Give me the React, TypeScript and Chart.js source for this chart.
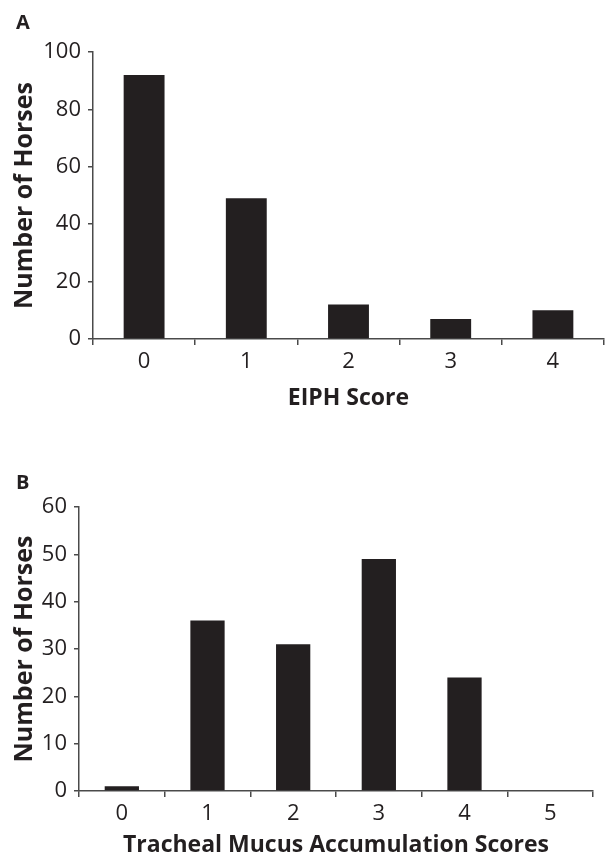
import React, { useEffect, useRef } from 'react';
import { Chart, registerables } from 'chart.js';

Chart.register(...registerables);

// ---- data ----
const eiphScores = ['0', '1', '2', '3', '4'];
const eiphHorses = [92, 49, 12, 7, 10];
const eiphMax = 100;
const eiphLabelStep = 20;

const mucusScores = ['0', '1', '2', '3', '4', '5'];
const mucusHorses = [1, 36, 31, 49, 24, 0];
const mucusMax = 60;
const mucusLabelStep = 10;

const yTitle = 'Number of Horses';
const eiphTitle = 'EIPH Score';
const mucusTitle = 'Tracheal Mucus Accumulation Scores';

const INK = '#231f20';
const AXIS = '#4a4a4a';
const FONT = "'Open Sans', 'Noto Sans', sans-serif";

type PanelProps = {
  letter: string;
  labels: string[];
  values: number[];
  yMax: number;
  labelStep: number;
  xTitle: string;
  xTitleSize: number;
  top: number;
  height: number;
  padTop: number;
  padRight: number;
  yWidth: number;
  xHeight: number;
  titlePad: number;
  titleLineHeight: number;
  letterTop: number;
};

function Panel(p: PanelProps) {
  const ref = useRef<HTMLCanvasElement | null>(null);
  useEffect(() => {
    if (!ref.current) return;
    const chart = new Chart(ref.current, {
      type: 'bar',
      data: {
        labels: p.labels,
        datasets: [
          {
            data: p.values,
            backgroundColor: INK,
            borderWidth: 0,
            barPercentage: 0.4,
            categoryPercentage: 1,
          },
        ],
      },
      options: {
        animation: false,
        responsive: false,
        maintainAspectRatio: false,
        layout: { padding: { top: p.padTop, right: p.padRight, left: 0, bottom: 0 } },
        plugins: { legend: { display: false }, tooltip: { enabled: false }, title: { display: false } },
        scales: {
          x: {
            offset: true,
            grid: { offset: true, drawOnChartArea: false, drawTicks: true, tickLength: 6, color: AXIS, lineWidth: 1.5 },
            border: { display: true, color: AXIS, width: 1.5 },
            ticks: { color: INK, font: { family: FONT, size: 22 }, padding: 4, maxRotation: 0 },
            title: {
              display: true,
              text: p.xTitle,
              color: INK,
              font: { family: FONT, size: p.xTitleSize, weight: 'bold', lineHeight: p.titleLineHeight },
              padding: { top: 0, bottom: p.titlePad },
            },
            afterFit: (s: any) => {
              s.height = p.xHeight;
            },
          },
          y: {
            min: 0,
            max: p.yMax,
            grid: { drawOnChartArea: false, drawTicks: true, tickLength: 5, color: AXIS, lineWidth: 1.5 },
            border: { display: true, color: AXIS, width: 1.5 },
            ticks: {
              stepSize: 10,
              color: INK,
              font: { family: FONT, size: 22 },
              padding: 7,
              callback: (v: any) => (Number(v) % p.labelStep === 0 ? String(v) : ''),
            },
            title: {
              display: true,
              text: yTitle,
              color: INK,
              font: { family: FONT, size: 25, weight: 'bold', lineHeight: 1.2 },
              padding: { top: 10, bottom: 0 },
            },
            afterFit: (s: any) => {
              s.width = p.yWidth;
            },
          },
        },
      },
    });
    return () => chart.destroy();
  }, []);
  return (
    <div style={{ position: 'absolute', left: 0, top: p.top, width: 605, height: p.height }}>
      <canvas ref={ref} width={605} height={p.height} style={{ display: 'block', width: 605, height: p.height }} />
      <span
        style={{
          position: 'absolute',
          left: 16,
          top: p.letterTop,
          fontFamily: FONT,
          fontWeight: 700,
          fontSize: 20,
          lineHeight: '20px',
          color: INK,
        }}
      >
        {p.letter}
      </span>
    </div>
  );
}

export default function App() {
  return (
    <div style={{ position: 'absolute', left: 0, top: 0, width: 605, height: 856, overflow: 'hidden', background: '#fff' }}>
      <Panel
        letter="A"
        labels={eiphScores}
        values={eiphHorses}
        yMax={eiphMax}
        labelStep={eiphLabelStep}
        xTitle={eiphTitle}
        xTitleSize={23}
        top={0}
        height={425}
        padTop={52}
        padRight={1}
        yWidth={93}
        xHeight={86}
        titlePad={13}
        titleLineHeight={1.2}
        letterTop={12}
      />
      <Panel
        letter="B"
        labels={mucusScores}
        values={mucusHorses}
        yMax={mucusMax}
        labelStep={mucusLabelStep}
        xTitle={mucusTitle}
        xTitleSize={23}
        top={430}
        height={426}
        padTop={77}
        padRight={12}
        yWidth={79}
        xHeight={65}
        titlePad={0}
        titleLineHeight={0.9}
        letterTop={42}
      />
    </div>
  );
}
